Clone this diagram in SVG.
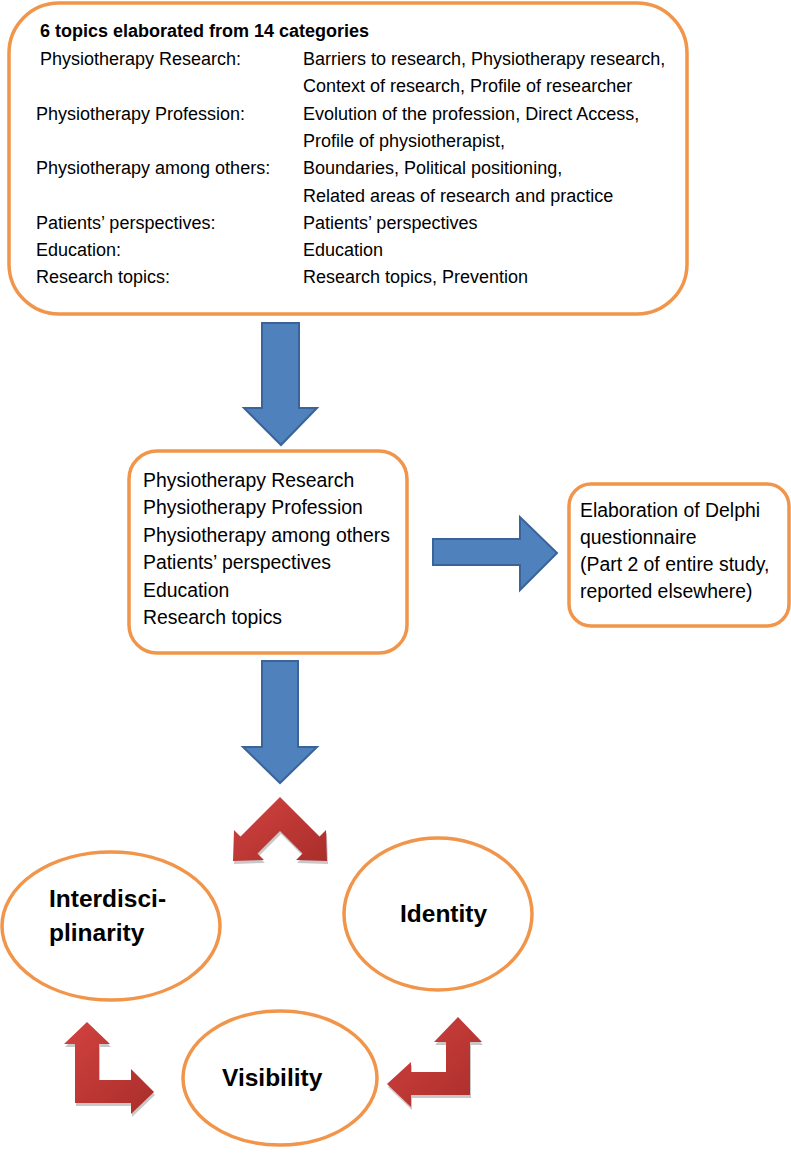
<svg xmlns="http://www.w3.org/2000/svg" width="791" height="1153" viewBox="0 0 791 1153">
<defs>
<style>
.box{fill:#fff;stroke:#F0954A;stroke-width:3.5}
.t{font-family:"Liberation Sans",Arial,sans-serif;font-size:18px;fill:#000}
.tb{font-family:"Liberation Sans",Arial,sans-serif;font-size:18px;font-weight:bold;fill:#000}
.m{font-family:"Liberation Sans",Arial,sans-serif;font-size:19.4px;fill:#000}
.e{font-family:"Liberation Sans",Arial,sans-serif;font-size:24.5px;font-weight:bold;fill:#000}
.blue{fill:#4F81BD;stroke:#3A639A;stroke-width:2;stroke-linejoin:miter}
.red{fill:url(#redg)}
.shadow{fill:#c8c8c8}
</style>
<linearGradient id="redg" x1="0" y1="0" x2="1" y2="1">
<stop offset="0" stop-color="#D2423F"/>
<stop offset="1" stop-color="#A92E2B"/>
</linearGradient>
</defs>

<g id="connectors">
<polygon class="blue" points="262,323 299,323 299,408 317,408 281,445 244,408 262,408"/>
<polygon class="blue" points="262,661 298,661 298,747 317,747 280,783 243,747 262,747"/>
<polygon class="blue" points="433,539 520,539 520,517 557,553 520,590 520,565 433,565"/>
<g transform="translate(1,3)">
<polygon class="shadow" points="280,797 240.5,836.5 234,830 233,861 264,860 257.5,853.5 280,831 302.5,853.5 296,860 327,861 326,830 319.5,836.5"/>
<polygon class="shadow" points="87,1022 110,1044 99,1044 99,1080 131,1080 131,1069 154,1092 131,1114 131,1103 75,1103 75,1044 64,1044"/>
<polygon class="shadow" points="458,1017 482,1042 470,1042 470,1095 411,1095 411,1107 387,1084 411,1062 411,1072 446,1072 446,1042 434,1042"/>
</g>
<polygon class="red" points="280,797 240.5,836.5 234,830 233,861 264,860 257.5,853.5 280,831 302.5,853.5 296,860 327,861 326,830 319.5,836.5"/>
<polygon class="red" points="87,1022 110,1044 99,1044 99,1080 131,1080 131,1069 154,1092 131,1114 131,1103 75,1103 75,1044 64,1044"/>
<polygon class="red" points="458,1017 482,1042 470,1042 470,1095 411,1095 411,1107 387,1084 411,1062 411,1072 446,1072 446,1042 434,1042"/>
</g>

<g id="topBox">
<rect class="box" x="9" y="3" width="678" height="311" rx="50" ry="50"/>
<text class="tb" x="40" y="37">6 topics elaborated from 14 categories</text>
<text class="t" x="40" y="65">Physiotherapy Research:</text>
<text class="t" x="303" y="65">Barriers to research, Physiotherapy research,</text>
<text class="t" x="303" y="92.3">Context of research, Profile of researcher</text>
<text class="t" x="36" y="119.6">Physiotherapy Profession:</text>
<text class="t" x="303" y="119.6">Evolution of the profession, Direct Access,</text>
<text class="t" x="303" y="146.9">Profile of physiotherapist,</text>
<text class="t" x="36" y="174.2">Physiotherapy among others:</text>
<text class="t" x="303" y="174.2">Boundaries, Political positioning,</text>
<text class="t" x="303" y="201.5">Related areas of research and practice</text>
<text class="t" x="36" y="228.8">Patients’ perspectives:</text>
<text class="t" x="303" y="228.8">Patients’ perspectives</text>
<text class="t" x="36" y="256.1">Education:</text>
<text class="t" x="303" y="256.1">Education</text>
<text class="t" x="36" y="283.4">Research topics:</text>
<text class="t" x="303" y="283.4">Research topics, Prevention</text>
</g>

<g id="midBox">
<rect class="box" x="129" y="451" width="278" height="202" rx="28" ry="28"/>
<text class="m" x="143" y="487">Physiotherapy Research</text>
<text class="m" x="143" y="514.4">Physiotherapy Profession</text>
<text class="m" x="143" y="541.8">Physiotherapy among others</text>
<text class="m" x="143" y="569.2">Patients’ perspectives</text>
<text class="m" x="143" y="596.6">Education</text>
<text class="m" x="143" y="624">Research topics</text>
</g>

<g id="rightBox">
<rect class="box" x="569" y="484" width="220" height="142" rx="22" ry="22"/>
<text class="m" x="580" y="517">Elaboration of Delphi</text>
<text class="m" x="580" y="544">questionnaire</text>
<text class="m" x="580" y="571">(Part 2 of entire study,</text>
<text class="m" x="580" y="598">reported elsewhere)</text>
</g>

<g id="interdisciplinarity">
<ellipse class="box" cx="111" cy="926" rx="109" ry="74"/>
<text class="e" x="49" y="907">Interdisci-</text>
<text class="e" x="49" y="941">plinarity</text>
</g>

<g id="identity">
<ellipse class="box" cx="438" cy="914" rx="94" ry="76"/>
<text class="e" x="400" y="922">Identity</text>
</g>

<g id="visibility">
<ellipse class="box" cx="280" cy="1078" rx="97" ry="67"/>
<text class="e" x="222" y="1086">Visibility</text>
</g>
</svg>
